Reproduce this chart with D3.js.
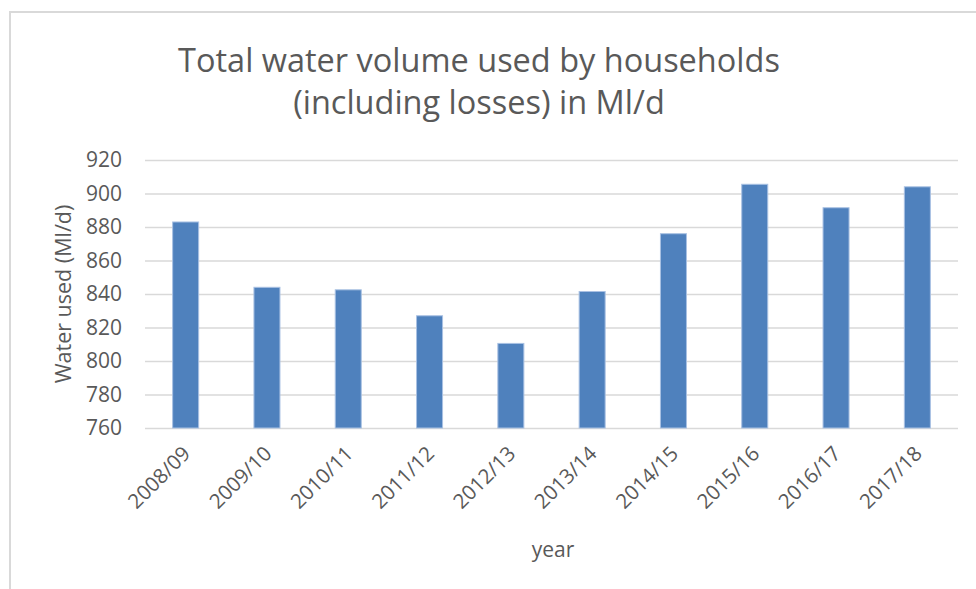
<!DOCTYPE html>
<html>
<head>
<meta charset="utf-8">
<script src="https://cdn.jsdelivr.net/npm/d3@7"></script>
<style>
  body { margin: 0; background: #fff; }
  svg { display: block; }
</style>
</head>
<body>
<svg id="chart" width="976" height="589"></svg>
<script>
// data
const years = ["2008/09", "2009/10", "2010/11", "2011/12", "2012/13",
               "2013/14", "2014/15", "2015/16", "2016/17", "2017/18"]
const waterUsed = [883, 844, 842.5, 827, 810.5, 841.5, 876, 905.5, 891.5, 904]
const yTicks = [760, 780, 800, 820, 840, 860, 880, 900, 920]
const titleLines = ["Total water volume used by households", "(including losses) in Ml/d"]

const width = 976, height = 589
const margin = { top: 160, right: 18, bottom: 161, left: 145 }
const chartWidth = width - margin.left - margin.right
const chartHeight = height - margin.top - margin.bottom
const font = "'Open Sans', sans-serif"
const textColor = "#595959"

const data = years.map((y, i) => ({ year: y, value: waterUsed[i] }))

const svgRoot = d3.select("#chart")

// chart area border (only top and left visible in the crop)
svgRoot.append("path")
  .attr("d", `M10,${height}V12H${width}`)
  .attr("fill", "none")
  .attr("stroke", "#d9d9d9")
  .attr("stroke-width", 2)

const x = d3.scaleBand()
  .domain(years)
  .range([0, chartWidth])
  .paddingInner(0.68)
  .paddingOuter(0.34)

const y = d3.scaleLinear()
  .domain([760, 920])
  .range([chartHeight, 0])

const svg = svgRoot.append("g")
  .attr("transform", `translate(${margin.left},${margin.top})`)
  .attr("id", "visualization")

// gridlines + y labels
const yAxis = (g) => g
  .call(d3.axisLeft(y).tickValues(yTicks).tickSize(-chartWidth).tickPadding(23))
  .call(g => g.select(".domain").remove())
  .call(g => g.selectAll(".tick line").attr("stroke", "#d9d9d9").attr("stroke-width", 1.3))
  .call(g => g.selectAll(".tick text")
    .attr("font-family", font)
    .attr("font-size", 21)
    .attr("fill", textColor))

svg.append("g").attr("id", "yaxis").call(yAxis)

// bars
svg.append("g").attr("id", "bars")
  .selectAll("rect")
  .data(data)
  .join("rect")
  .attr("x", d => x(d.year))
  .attr("y", d => y(d.value))
  .attr("width", x.bandwidth())
  .attr("height", d => chartHeight - y(d.value))
  .attr("fill", "#4f81bd")
  .attr("stroke", "#a9c1e3")
  .attr("stroke-width", 1)

// x labels, rotated
const xAxis = (g) => g
  .attr("transform", `translate(0,${chartHeight})`)
  .call(d3.axisBottom(x).tickSize(0))
  .call(g => g.select(".domain").remove())
  .call(g => g.selectAll(".tick text")
    .attr("font-family", font)
    .attr("font-size", 20.5)
    .attr("fill", textColor)
    .attr("text-anchor", "end")
    .attr("dy", null)
    .attr("y", 0)
    .attr("transform", "translate(6,27) rotate(-45)"))

svg.append("g").attr("id", "xaxis").call(xAxis)

// axis titles
svgRoot.append("text")
  .attr("transform", `translate(63,${margin.top + chartHeight / 2}) rotate(-90)`)
  .attr("dy", "0.35em")
  .attr("text-anchor", "middle")
  .attr("font-family", font)
  .attr("font-size", 21.5)
  .attr("fill", textColor)
  .text("Water used (Ml/d)")

svgRoot.append("text")
  .attr("x", 553)
  .attr("y", 557)
  .attr("text-anchor", "middle")
  .attr("font-family", font)
  .attr("font-size", 21)
  .attr("fill", textColor)
  .text("year")

// title
const title = svgRoot.append("text")
  .attr("text-anchor", "middle")
  .attr("font-family", font)
  .attr("font-size", 30)
  .attr("fill", textColor)

title.selectAll("tspan")
  .data(titleLines)
  .join("tspan")
  .attr("x", 479)
  .attr("y", (d, i) => 72 + i * 42)
  .text(d => d)

// fit first title line to ~602px like the reference
const w = title.select("tspan").node().getComputedTextLength()
title.attr("font-size", 30 * 602 / w)
</script>
</body>
</html>
